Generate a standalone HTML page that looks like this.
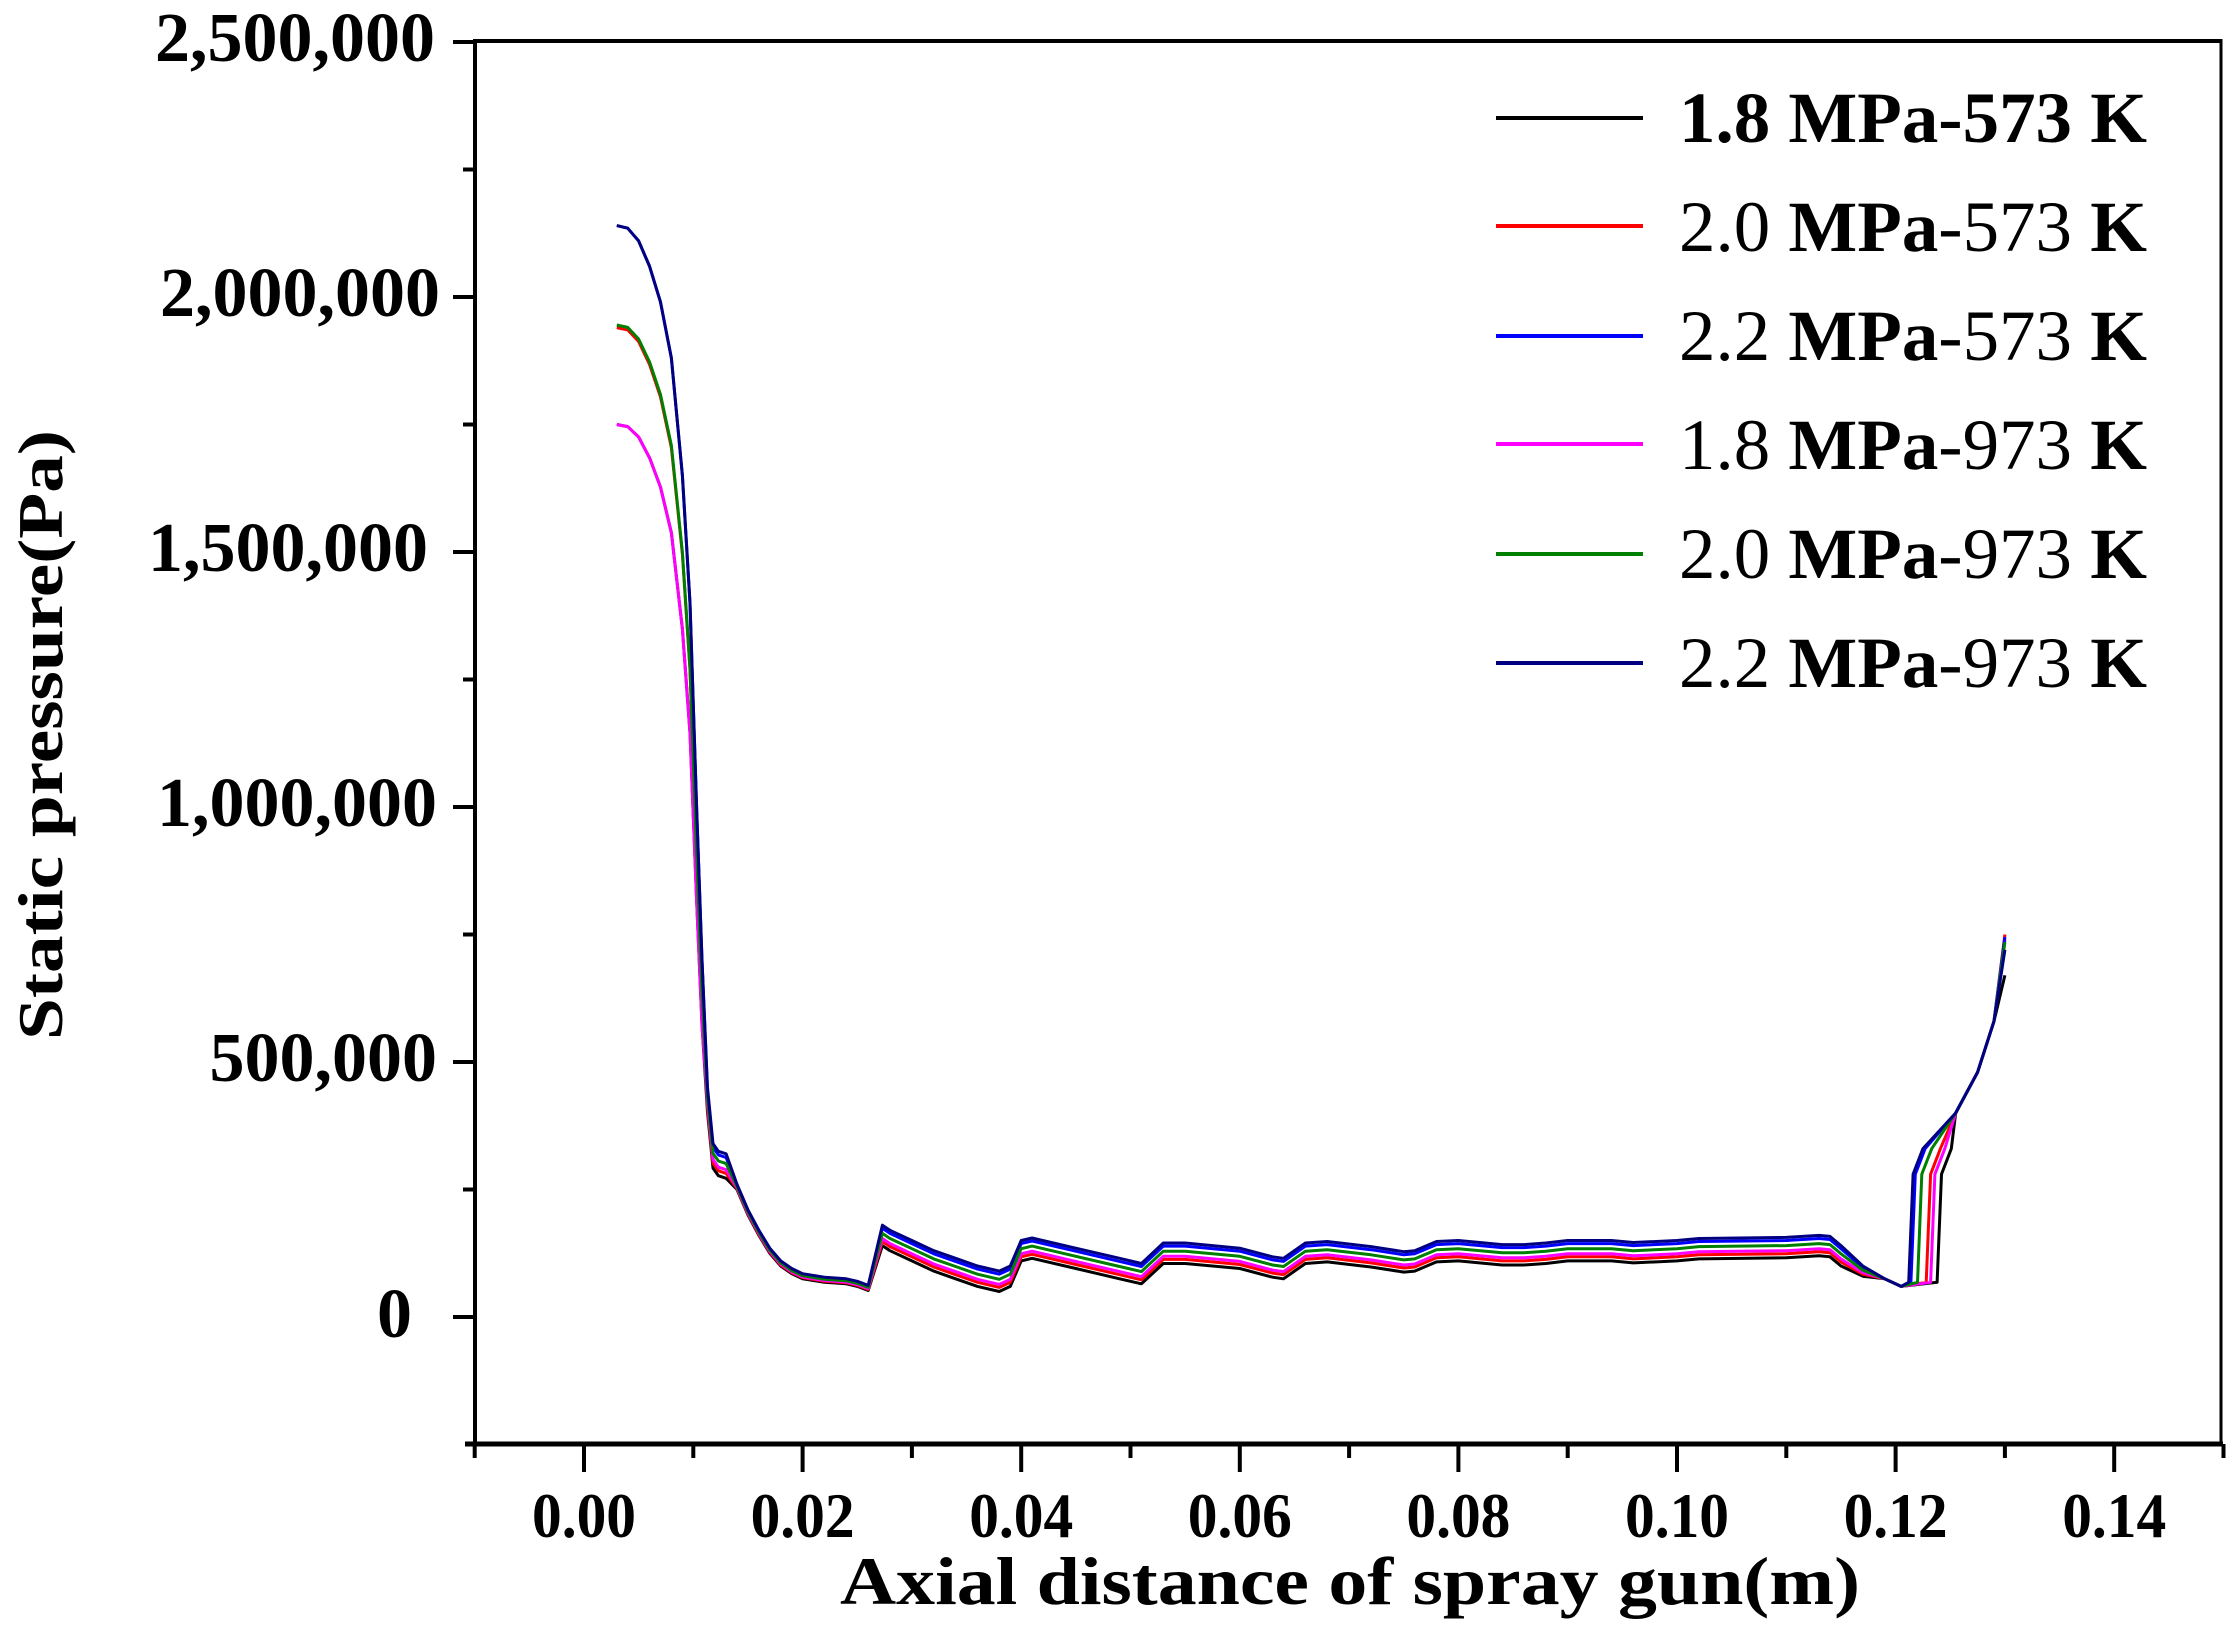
<!DOCTYPE html>
<html><head><meta charset="utf-8"><style>
html,body{margin:0;padding:0;background:#fff;}
svg{display:block;}
text{font-family:"Liberation Serif",serif;fill:#000;}
</style></head><body>
<svg id="s" width="2228" height="1643" viewBox="0 0 2228 1643" xmlns="http://www.w3.org/2000/svg">
<rect width="2228" height="1643" fill="#fff"/>
<line x1="475" y1="41" x2="2222" y2="41" stroke="#000" stroke-width="4"/>
<line x1="475" y1="39" x2="475" y2="1446" stroke="#000" stroke-width="4"/>
<line x1="2221" y1="39" x2="2221" y2="1446" stroke="#000" stroke-width="3"/>
<line x1="465" y1="1444" x2="2223" y2="1444" stroke="#000" stroke-width="5"/>
<g id="ticks" stroke="#000" stroke-width="4"></g>
<g font-weight="bold" font-size="70" text-anchor="end">
<text x="435" y="61">2,500,000</text>
<text x="440" y="316">2,000,000</text>
<text x="428" y="571">1,500,000</text>
<text x="437" y="826">1,000,000</text>
<text x="437" y="1081">500,000</text>
<text x="412" y="1337">0</text>
</g>
<g font-weight="bold" font-size="64" text-anchor="middle" id="xl"></g>
<text x="1350" y="1604" font-weight="bold" font-size="68" text-anchor="middle" textLength="1020" lengthAdjust="spacingAndGlyphs">Axial distance of spray gun(m)</text>
<text transform="translate(62,735) rotate(-90)" x="0" y="0" font-weight="bold" font-size="64" text-anchor="middle" textLength="610" lengthAdjust="spacingAndGlyphs">Static pressure(Pa)</text>
<g id="series" fill="none" stroke-width="3" stroke-linejoin="round"></g>
<g stroke-width="4">
<line x1="1496" y1="118" x2="1643" y2="118" stroke="#000"/>
<line x1="1496" y1="226" x2="1643" y2="226" stroke="#ff0000"/>
<line x1="1496" y1="336" x2="1643" y2="336" stroke="#0000ff"/>
<line x1="1496" y1="444" x2="1643" y2="444" stroke="#ff00ff"/>
<line x1="1496" y1="554" x2="1643" y2="554" stroke="#008000"/>
<line x1="1496" y1="663" x2="1643" y2="663" stroke="#000080"/>
</g>
<g font-size="72">
<text x="1679" y="142" textLength="468" lengthAdjust="spacingAndGlyphs" font-weight="bold">1.8 MPa-573 K</text>
<text x="1679" y="251" textLength="468" lengthAdjust="spacingAndGlyphs">2.0 <tspan font-weight="bold">MPa</tspan>-573 <tspan font-weight="bold">K</tspan></text>
<text x="1679" y="360" textLength="468" lengthAdjust="spacingAndGlyphs">2.2 <tspan font-weight="bold">MPa</tspan>-573 <tspan font-weight="bold">K</tspan></text>
<text x="1679" y="469" textLength="468" lengthAdjust="spacingAndGlyphs">1.8 <tspan font-weight="bold">MPa</tspan>-973 <tspan font-weight="bold">K</tspan></text>
<text x="1679" y="578" textLength="468" lengthAdjust="spacingAndGlyphs">2.0 <tspan font-weight="bold">MPa</tspan>-973 <tspan font-weight="bold">K</tspan></text>
<text x="1679" y="687" textLength="468" lengthAdjust="spacingAndGlyphs">2.2 <tspan font-weight="bold">MPa</tspan>-973 <tspan font-weight="bold">K</tspan></text>
</g>
</svg>
<script>
var NS="http://www.w3.org/2000/svg";
function el(p,n,a,t){var e=document.createElementNS(NS,n);for(var k in a)e.setAttribute(k,a[k]);if(t)e.textContent=t;document.getElementById(p).appendChild(e);return e;}
function X(mm){return 584+mm*10.93;}
function Y(k){return 1317-k*0.51;}
for(var v=0;v<=2500;v+=250){var y=Y(v);var L=(v%500==0)?22:12;el("ticks","line",{x1:475-L,y1:y,x2:475,y2:y});}
for(var i=-1;i<=15;i++){var x=X(i*10);var L=(i%2==0)?28:14;el("ticks","line",{x1:x,y1:1444,x2:x,y2:1444+L});
 if(i>=0&&i%2==0)el("xl","text",{x:x,y:1537,textLength:104,lengthAdjust:"spacingAndGlyphs"},(i/100).toFixed(2));}
var base=[[3,2140],[4,2135],[5,2110],[6,2060],[7,1990],[8,1880],[9,1650],[9.7,1400],[10.3,1000],[10.8,700],[11.3,450],[11.8,340],[12.3,325],[13,320],[14,260],[15,210],[16,170],[17,135],[18,110],[19,95],[20,85],[22,78],[24,75],[25,70],[26,62],[27.3,180],[28,170],[30,150],[32,130],[34,115],[36,100],[38,90],[39,100],[40,150],[41,155],[45,135],[49,115],[51,105],[53,145],[55,145],[60,135],[63,118],[64,115],[66,145],[68,148],[72,138],[75,128],[76,130],[78,148],[80,150],[84,142],[86,142],[88,145],[90,150],[94,150],[96,146],[100,150],[102,154],[110,156],[113,160],[114,158]];
var ser=[
 {c:"#000000",S:1750,off:-40,j:124.2,e:670},
 {c:"#ff0000",S:1940,off:-32,j:123.2,e:750},
 {c:"#ff00ff",S:1750,off:-26,j:123.6,e:740},
 {c:"#0000ff",S:2140,off:-6,j:121.8,e:745},
 {c:"#008000",S:1945,off:-16,j:122.4,e:735},
 {c:"#000080",S:2140,off:0,j:121.6,e:720}];
ser.forEach(function(s){
 var pts=[];
 base.forEach(function(p){var x=p[0],y=p[1];
  if(x<=10.8)y=y*s.S/2140;else if(x<=13)y=y+s.off*1.2;else if(x<=26)y=y+s.off*0.25;else y=y+s.off;
  pts.push([x,y]);});
 pts.push([115,140+s.off],[117,100+s.off/2],[119,75],[120.5,60],[s.j-0.4,68],[s.j,280],[s.j+0.9,330],[125.5,400],[127.5,480],[129,580],[130,s.e]);
 var d=pts.map(function(p,i){return (i?"L":"M")+X(p[0]).toFixed(1)+" "+Y(p[1]).toFixed(1);}).join(" ");
 el("series","path",{d:d,stroke:s.c});
});
</script>
</body></html>
